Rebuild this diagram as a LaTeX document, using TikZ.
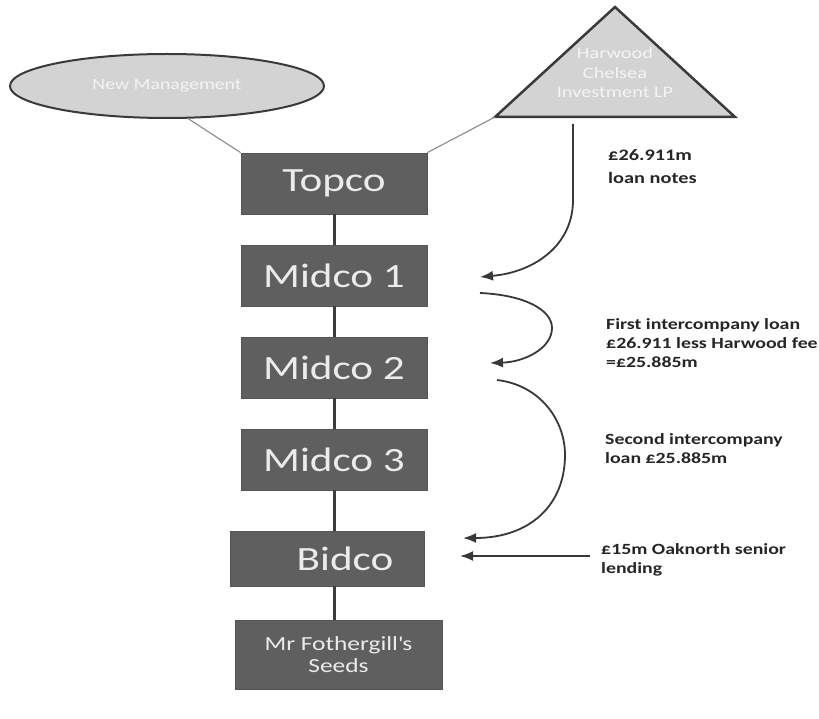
\documentclass[tikz,border=0pt]{standalone}
\usepackage{fontspec}
\setmainfont[FakeStretch=1.27]{Carlito}
\usetikzlibrary{arrows.meta,shapes.geometric}
\definecolor{boxfill}{HTML}{5F5F5F}
\definecolor{boxline}{HTML}{555555}
\definecolor{boxtext}{HTML}{EBEBEB}
\definecolor{shapefill}{HTML}{D3D3D3}
\definecolor{shapeline}{HTML}{3A3A3A}
\definecolor{shapetext}{HTML}{F4F4F4}
\definecolor{linkcol}{HTML}{3C3C3C}
\definecolor{thincol}{HTML}{8A8A8A}
\definecolor{arrowcol}{HTML}{383838}
\definecolor{notecol}{HTML}{262626}
\begin{document}
\begin{tikzpicture}[x=1pt,y=-1pt,
  co/.style={rectangle, fill=boxfill, draw=boxline, line width=0.8pt, text=boxtext,
    font=\fontsize{34}{40}\selectfont, minimum width=186pt, minimum height=61pt, inner sep=0pt},
  link/.style={draw=linkcol, line width=3pt},
  thinlink/.style={draw=thincol, line width=1.1pt},
  flow/.style={draw=arrowcol, line width=1.8pt, -{Latex[length=13pt,width=10pt]}},
  note/.style={font=\bfseries\fontsize{15.6}{19}\selectfont, text=notecol, align=left, anchor=west, inner sep=0pt},
  shapetxt/.style={text=shapetext, align=center, inner sep=0pt}
]
\useasboundingbox (0,0) rectangle (819,719);

% company boxes
\node[co] (topco) at (334,183.5) {Topco};
\node[co] (m1) at (334,275.5) {Midco 1};
\node[co] (m2) at (334,367.5) {Midco 2};
\node[co] (m3) at (334,459.5) {Midco 3};
\node[co, minimum width=194pt, minimum height=55pt] (bid) at (327,558.5) {\hspace{36pt}Bidco};
\node[co, minimum width=207pt, minimum height=69pt, font=\fontsize{20}{22}\selectfont, align=center] (seeds) at (338.5,654.5) {Mr Fothergill\textquotesingle s\\Seeds};

% vertical links
\draw[link] (topco) -- (m1);
\draw[link] (m1) -- (m2);
\draw[link] (m2) -- (m3);
\draw[link] (m3.south) -- (m3.south |- bid.north);
\draw[link] (m3.south |- bid.south) -- (m3.south |- seeds.north);

% owners
\node[ellipse, fill=shapefill, draw=shapeline, line width=2pt, minimum width=314pt, minimum height=64pt,
  inner sep=0pt, text=shapetext, font=\fontsize{15.6}{18}\selectfont] (nm) at (167,86) {\raisebox{-3pt}{New Management}};

\coordinate (hapex) at (615,7);
\coordinate (hbl) at (495,117);
\coordinate (hbr) at (735,117);
\draw[fill=shapefill, draw=shapeline, line width=2.5pt, line join=miter] (hapex) -- (hbl) -- (hbr) -- cycle;
\node[shapetxt, font=\fontsize{16}{19.5}\selectfont] (hc) at (615,73) {Harwood\\Chelsea\\Investment LP};

\draw[thinlink] (nm.-57) -- (topco.north west);
\draw[thinlink] (hbl) -- (topco.north east);

% flows
\coordinate (a1s) at (573,124);
\coordinate (a1e) at (480,277);
\draw[flow] (a1s) -- (573,200) .. controls (573,245) and (535,272) .. (a1e);

\coordinate (a2s) at (480,293);
\coordinate (a2e) at (490,363);
\draw[flow] (a2s) .. controls (525,295) and (552,310) .. (552,328) .. controls (552,348) and (525,362) .. (a2e);

\coordinate (a3s) at (497,380);
\coordinate (a3e) at (463,538);
\draw[flow] (a3s) .. controls (540,385) and (565,420) .. (565,455) .. controls (565,505) and (530,538) .. (a3e);

\coordinate (a4s) at (590,556);
\coordinate (a4e) at (460,556);
\draw[flow] (a4s) -- (a4e);

% notes
\node[note, font=\bfseries\fontsize{16}{23}\selectfont] (n1) at (608,167) {£26.911m\\loan notes};
\node[note] (n2) at (606,343) {First intercompany loan\\£26.911 less Harwood fee\\=£25.885m};
\node[note] (n3) at (605,448.5) {Second intercompany\\loan £25.885m};
\node[note] (n4) at (601,559.5) {£15m Oaknorth senior\\lending};
\end{tikzpicture}
\end{document}
